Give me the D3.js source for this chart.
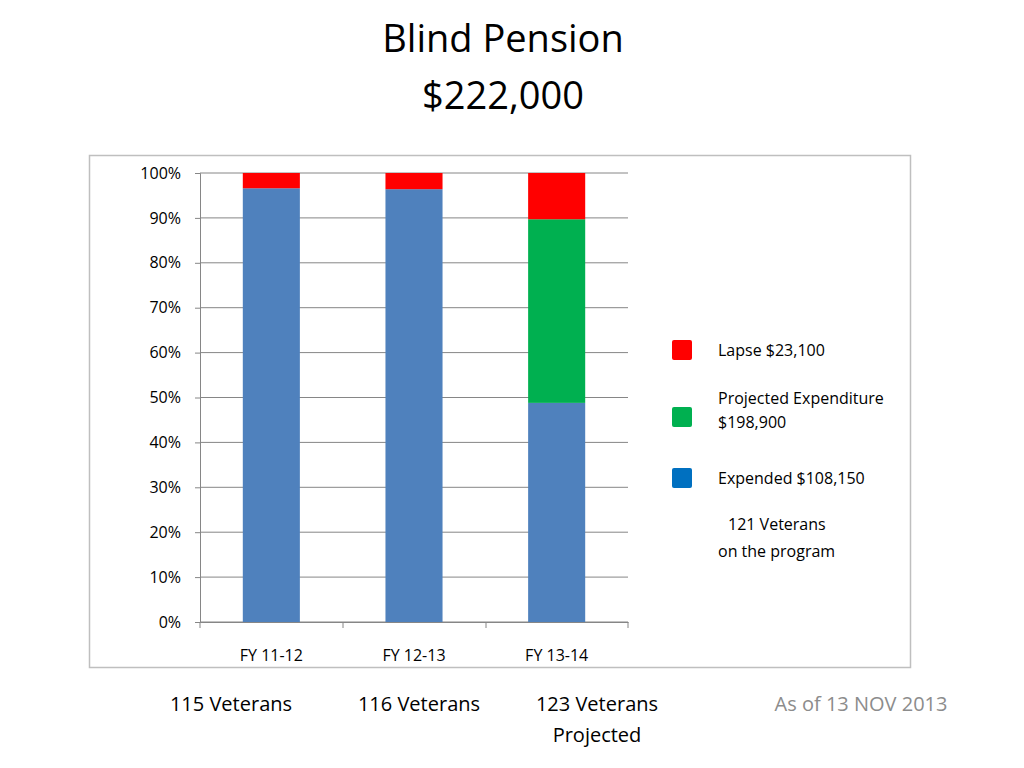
<!DOCTYPE html>
<html><head><meta charset="utf-8">
<script src="https://cdn.jsdelivr.net/npm/d3@7"></script>
<style>body{margin:0;background:#fff;font-family:"Open Sans",sans-serif}</style>
</head><body>
<svg id="c" width="1024" height="768"></svg>
<script>
const categories = ["FY 11-12", "FY 12-13", "FY 13-14"];
const expended = [96.6, 96.4, 48.8];
const projected = [0, 0, 40.9];
const lapse = [3.4, 3.6, 10.3];
const yTicks = [0, 10, 20, 30, 40, 50, 60, 70, 80, 90, 100];
const veterans = ["115 Veterans", "116 Veterans", "123 Veterans"];
const legendItems = [
  { color: "#FF0000", lines: ["Lapse $23,100"] },
  { color: "#00B050", lines: ["Projected Expenditure", "$198,900"] },
  { color: "#0070C0", lines: ["Expended $108,150"] }
];

const svg = d3.select("#c");
const font = '"Open Sans",sans-serif';

svg.append("text").attr("x", 503).attr("y", 52).attr("text-anchor", "middle")
  .style("font-size", "38px").text("Blind Pension");
svg.append("text").attr("x", 503).attr("y", 109).attr("text-anchor", "middle")
  .style("font-size", "38px").text("$222,000");

svg.append("rect").attr("x", 89.5).attr("y", 155.5).attr("width", 821).attr("height", 512)
  .attr("fill", "#fff").attr("stroke", "#bfbfbf").attr("stroke-width", 1.5);

const x = d3.scaleBand().domain(categories).range([200, 628]).paddingInner(0.6).paddingOuter(0.3);
const y = d3.scaleLinear().domain([0, 100]).range([622, 173]);

const g = svg.append("g");
g.selectAll(".grid").data(yTicks).join("line")
  .attr("x1", 200).attr("x2", 628).attr("y1", d => y(d)).attr("y2", d => y(d))
  .attr("stroke", "#868686");

const stack = categories.map((c, i) => [
  { c, y0: 0, y1: expended[i], color: "#4F81BD" },
  { c, y0: expended[i], y1: expended[i] + projected[i], color: "#00B050" },
  { c, y0: expended[i] + projected[i], y1: 100, color: "#FF0000" }
]).flat();
g.selectAll(".bar").data(stack).join("rect")
  .attr("x", d => x(d.c)).attr("width", x.bandwidth())
  .attr("y", d => y(d.y1)).attr("height", d => y(d.y0) - y(d.y1))
  .attr("fill", d => d.color);

const ya = g.append("g").attr("transform", "translate(200,0)")
  .call(d3.axisLeft(y).tickValues(yTicks).tickFormat(d => d + "%").tickSize(5).tickPadding(14));
const xa = g.append("g").attr("transform", "translate(0,622)")
  .call(d3.axisBottom(x).tickSize(0).tickPadding(28));
[ya, xa].forEach(a => {
  a.select(".domain").attr("stroke", "#868686");
  a.selectAll("line").attr("stroke", "#868686");
  a.selectAll("text").style("font-size", "16px").style("font-family", font).attr("fill", "#000");
});
// category separator ticks
const bounds = [200, 343, 486, 628];
g.selectAll(".sep").data(bounds).join("line")
  .attr("x1", d => d).attr("x2", d => d).attr("y1", 622).attr("y2", 628).attr("stroke", "#868686");

const lg = svg.append("g");
const ly = [340, 407, 468];
legendItems.forEach((it, i) => {
  lg.append("rect").attr("x", 672).attr("y", ly[i]).attr("width", 20).attr("height", 20)
    .attr("fill", it.color).attr("rx", 2);
  it.lines.forEach((t, j) => lg.append("text").attr("x", 718)
    .attr("y", (i === 1 ? 404 : ly[i] + 16) + (i === 1 ? j * 24 : 0))
    .style("font-size", "16px").text(t));
});
lg.append("text").attr("x", 728).attr("y", 530).style("font-size", "16px").text("121 Veterans");
lg.append("text").attr("x", 718).attr("y", 557).style("font-size", "16px").text("on the program");

const vx = [231, 419, 597];
veterans.forEach((t, i) => svg.append("text").attr("x", vx[i]).attr("y", 711)
  .attr("text-anchor", "middle").style("font-size", "20px").text(t));
svg.append("text").attr("x", 597).attr("y", 742).attr("text-anchor", "middle")
  .style("font-size", "20px").text("Projected");
svg.append("text").attr("x", 861).attr("y", 711).attr("text-anchor", "middle")
  .style("font-size", "20px").attr("fill", "#8c8c8c").text("As of  13 NOV 2013");
</script>
</body></html>
